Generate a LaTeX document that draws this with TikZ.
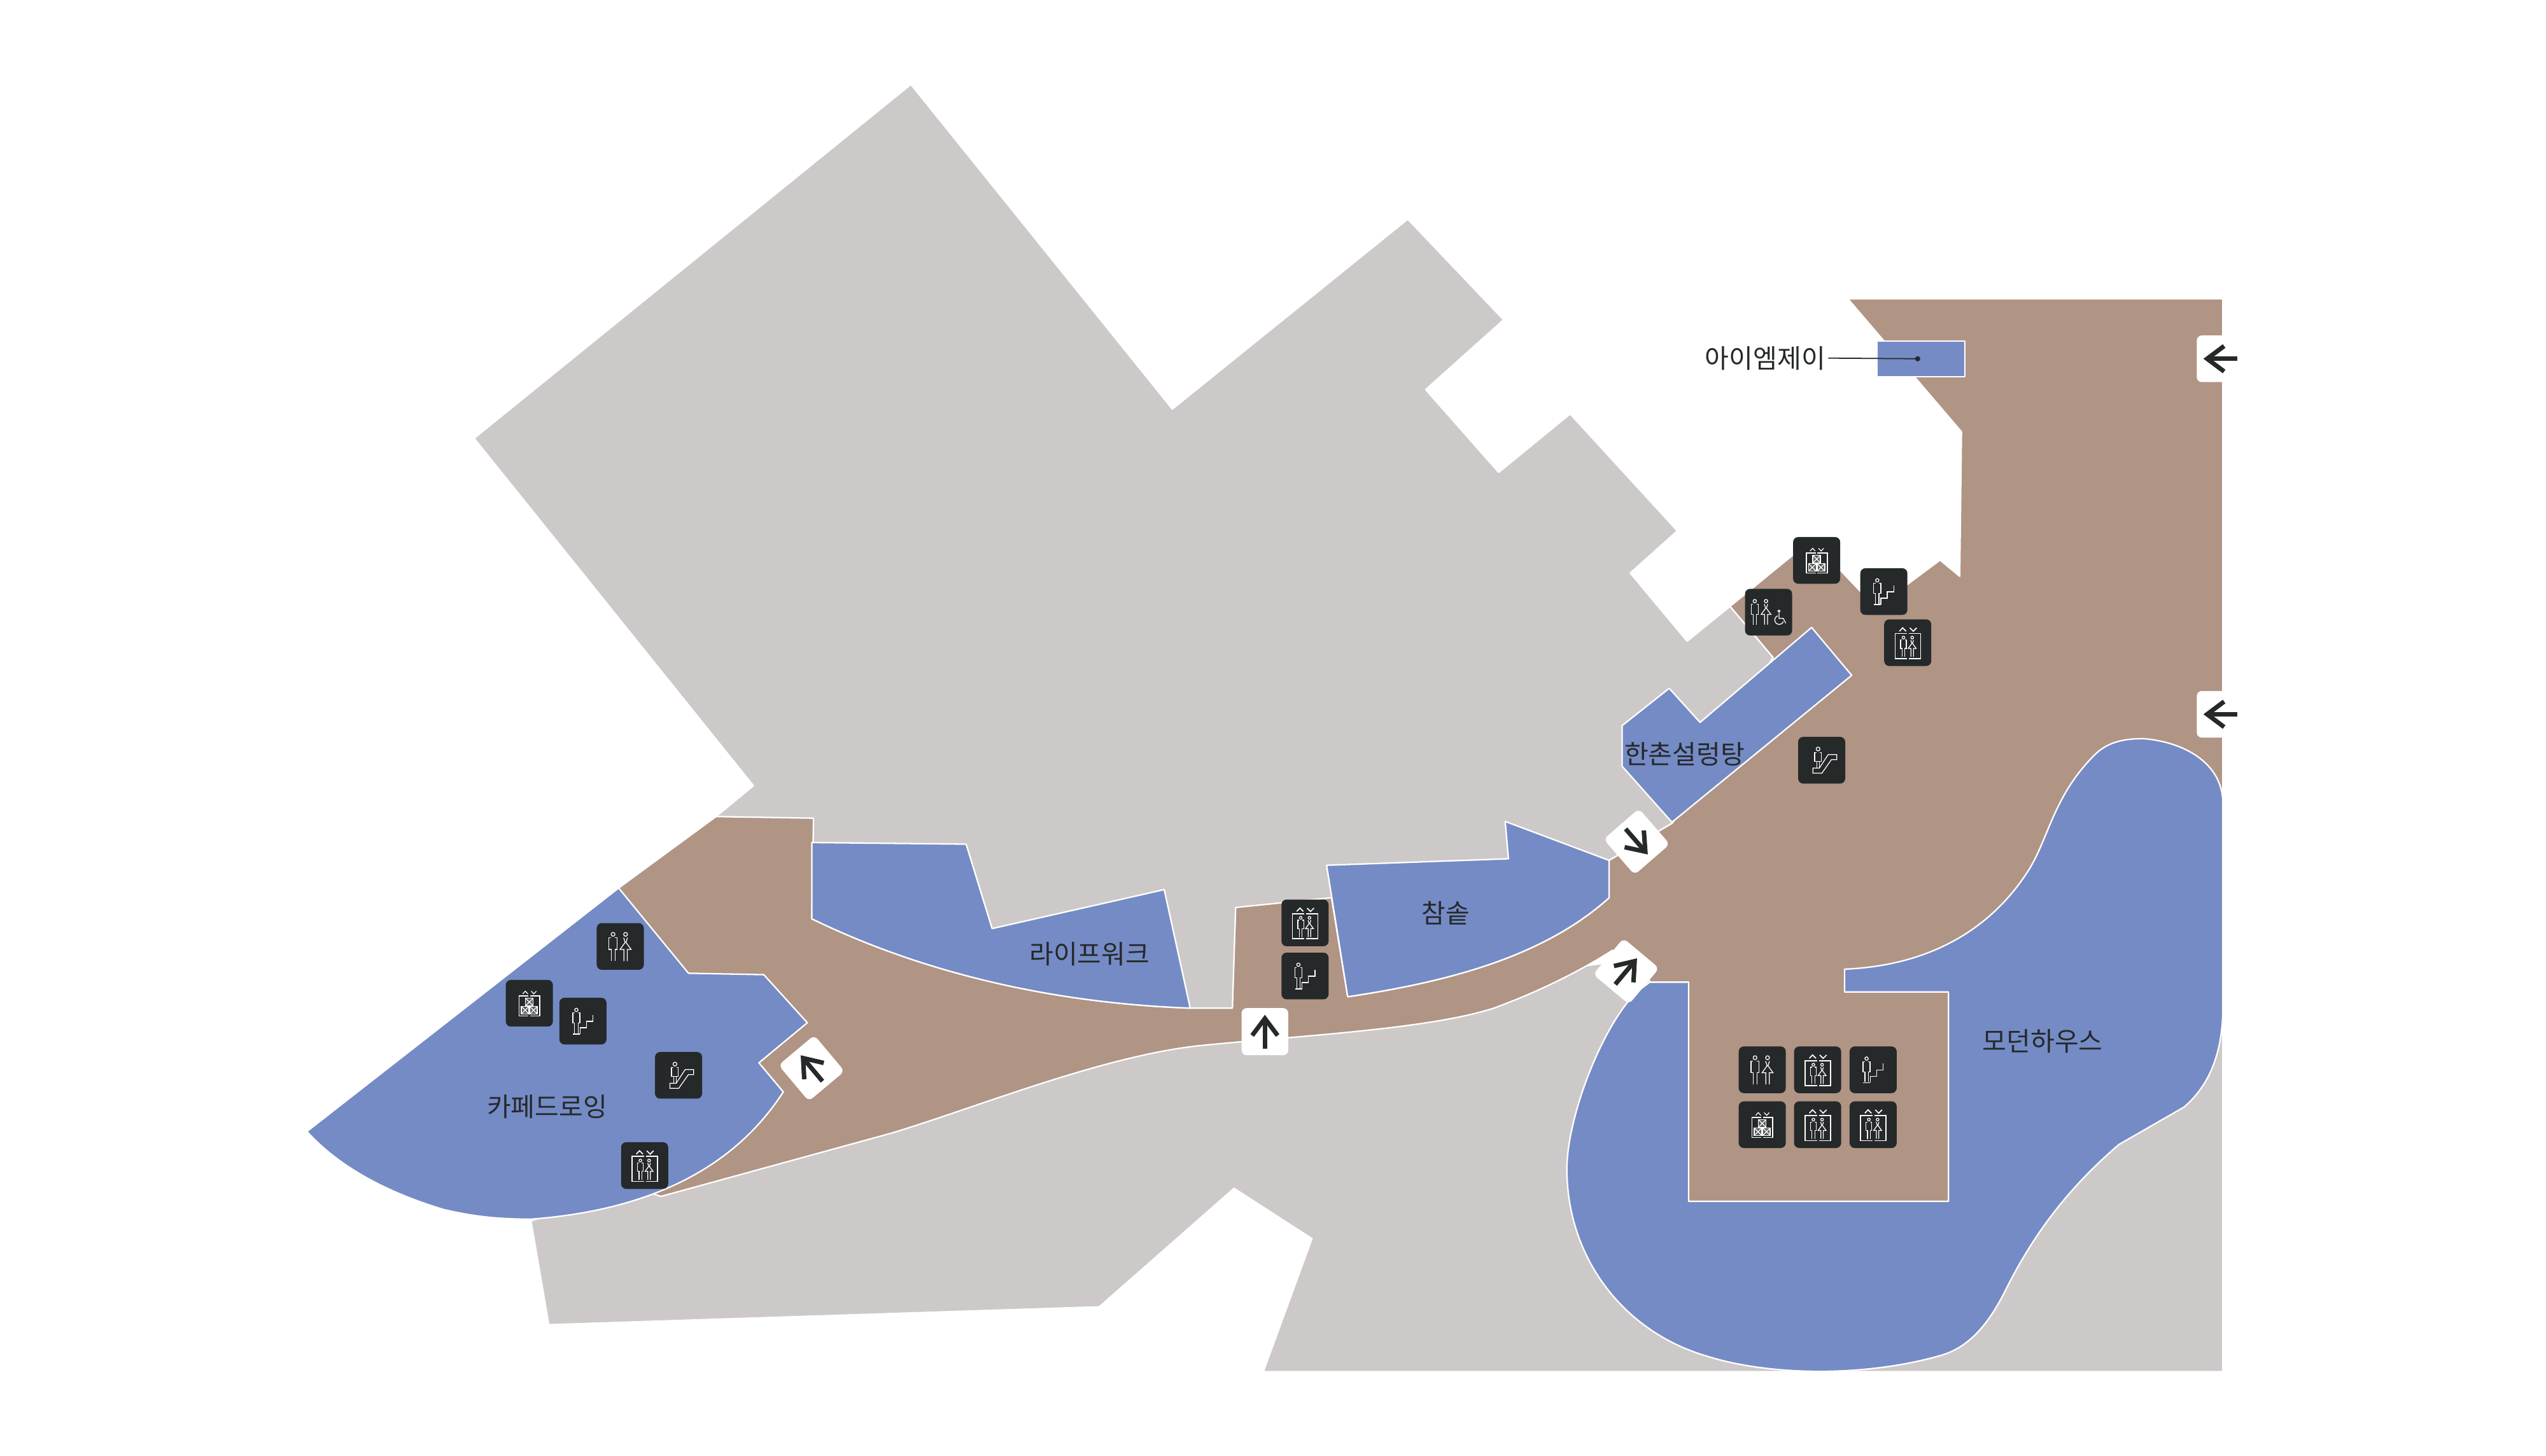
\documentclass[tikz,border=0pt]{standalone}
\usepackage{fontspec}
\setmainfont{Noto Sans CJK KR}
\definecolor{floorgray}{HTML}{CEC9C9}
\definecolor{floorbrown}{HTML}{B09484}
\definecolor{shopblue}{HTML}{758BC5}
\definecolor{ink}{HTML}{25292A}
\newcommand\figman[3]{\begin{scope}[shift={(#1,#2)},scale=#3]
 \draw[ico] (0,0) circle (9);
 \draw[ico] (-9,16) -- (-19,16) -- (-19,71) -- (-9,71) -- (-9,126);
 \draw[ico] (9,16) -- (19,16) -- (19,71) -- (9,71) -- (9,126);
\end{scope}}
\newcommand\figwoman[3]{\begin{scope}[shift={(#1,#2)},scale=#3]
 \draw[ico] (0,0) circle (9);
 \draw[ico] (-9,16) -- (-2,38) -- (-26,71) -- (-8,71) -- (-8,126);
 \draw[ico] (9,16) -- (2,38) -- (26,71) -- (8,71) -- (8,126);
\end{scope}}
\newcommand\liftframe{
 \draw[ico,line width=.48pt] (-3,-43) -- (-59,-43) -- (-59,75) -- (-3,75);
 \draw[ico,line width=.48pt] (6,-43) -- (61,-43) -- (61,75) -- (6,75);
 \draw[ico,line width=.48pt] (-39,-54) -- (-24,-70) -- (-8,-54);
 \draw[ico,line width=.48pt] (10,-70) -- (26,-54) -- (42,-70);
}
\newcommand\tilebg{\fill[ink,rounded corners=.08cm] (-111,-110) rectangle (111,110);}
\tikzset{
 ico/.style={draw=white,line width=.36pt,line cap=butt,line join=miter},
 shop/.style={fill=shopblue,draw=white,line width=.65pt,line join=round},
 walk/.style={fill=floorbrown,draw=white,line width=.65pt,line join=round},
 ground/.style={fill=floorgray,draw=white,line width=.65pt,line join=round},
 label/.style={text=ink,font=\fontsize{11.7pt}{14pt}\selectfont,inner sep=0pt},
 iconbase/.style={scale=0.13067},
 elevpic/.pic={\tilebg\liftframe\figman{-20}{-24}{.72}\figwoman{21}{-24}{.72}},
 stairpic/.pic={\tilebg\figman{-31}{-53}{.88}
   \draw[ico] (-47,61) -- (-14,61);
   \draw[ico] (-14,61) -- (-14,31) -- (16,31) -- (16,1) -- (47,1) -- (47,-30);},
 cargopic/.pic={\tilebg
   \draw[ico,line width=.48pt] (-4,-35) -- (-48,-35) -- (-48,60) -- (-4,60);
   \draw[ico,line width=.48pt] (4,-35) -- (50,-35) -- (50,60) -- (4,60);
   \draw[ico] (-31,-44) -- (-19,-57) -- (-7,-44);
   \draw[ico] (9,-57) -- (21,-44) -- (33,-57);
   \foreach \a/\b in {-18/-24,-38/15,2/15}{
     \draw[ico,line width=.48pt,fill=ink!75!white] (\a,\b) rectangle ++(36,36);
     \draw[ico] (\a,\b) -- ++(36,36);
     \draw[ico] (\a+36,\b) -- ++(-36,36);}},
 wcpic/.pic={\tilebg\figman{-34}{-57}{1}\figwoman{25}{-57}{1}},
 wcdpic/.pic={\tilebg\figman{-65}{-52}{.88}\figwoman{-12}{-52}{.88}
   \draw[ico] (49,-5) circle (5);
   \draw[ico] (49,4) -- (49,29) -- (69,29) -- (81,52);
   \draw[ico] (43,17) arc[start angle=-110,end angle=-340,radius=21] ;},
 escpic/.pic={\tilebg
   \draw[ico] (-17,-53) circle (9);
   \draw[ico] (-25,-37) -- (-33,-37) -- (-33,6) -- (-1,6) -- (-1,-37) -- (-9,-37);
   \draw[ico] (-23,6) -- (-23,37);
   \draw[ico] (-11,6) -- (-11,37);
   \draw[ico] (-41,37) -- (-11,37) -- (31,-27) -- (71,-27) -- (71,-3) -- (46,-3) -- (1,61) -- (-41,61) -- cycle;},
 arrowpic/.pic={\fill[white,rounded corners=.08cm] (-111,-110) rectangle (111,110);
   \draw[draw=ink,line width=2pt,line cap=butt,line join=miter] (18,-60) -- (-62,0) -- (18,60);
   \draw[draw=ink,line width=2pt,line cap=butt] (-62,0) -- (80,0);},
}
\begin{document}
\begin{tikzpicture}[x=0.0255102cm,y=-0.0255102cm]
\useasboundingbox (0,0) rectangle (1568,896.9);
% ground
\path[ground] (561,52) -- (722,252) -- (867,135) -- (926,197) -- (878,240) -- (923,291) -- (967,255) -- (1033,327) -- (1004,353) -- (1039,395) -- (1065.5,373.5) -- (1092,405) -- (1030,507) -- (991,530) -- (900,600) -- (830,614) -- (761,630) -- (500,620) -- (441,503) -- (464,484) -- (292,270) -- cycle;
\path[ground] (327,752) -- (338,816) -- (677,805) -- (760,732) -- (808,763) -- (778,845) -- (1369,845) -- (1369,560) -- (1010,590) -- (740,630) -- (500,640) -- (400,730) -- cycle;
% walkway
\path[walk] (381,547) -- (441,503) -- (501,504) -- (500,566) .. controls (570,600) and (650,618) .. (733,621) -- (759,621) -- (761,559) -- (820,553) -- (830,614) .. controls (890,605) and (950,590) .. (991,553) -- (991,530) -- (1030,507) -- (1092,405) -- (1065.5,373.5) -- (1115.6,332.6) -- (1145.5,364) -- (1160,372) -- (1174.7,360) -- (1194.8,345) -- (1206.9,355) -- (1208,266) -- (1138,184) -- (1369,184) -- (1369,500) -- (1210,650) -- (1205,745) -- (1035,745) -- (1020,610) -- (1015,603) -- (1006,590) -- (993,585.4) .. controls (975,597) and (950,610) .. (920,621) .. controls (880,634) and (800,638) .. (740,644) .. controls (680,650) and (600,682.7) .. (549,698) -- (407,737) -- (300,700) -- cycle;
% shops
\path[shop] (381,547) -- (424,599.5) -- (470.4,600.4) -- (497.2,630) -- (467.4,654.7) -- (482.4,672.6) .. controls (455,715) and (407,745) .. (327,751) .. controls (305,751) and (290,749) .. (273,745) .. controls (240,735) and (210,720) .. (189,697) -- cycle;
\path[shop] (500,519) -- (595,520) -- (611,572) -- (717,548) -- (733,621) .. controls (650,618) and (570,600) .. (500,566) -- cycle;
\path[shop] (817,533) -- (929,529) -- (927,506) -- (991,530) -- (991,553) .. controls (950,590) and (890,605) .. (830,614) -- cycle;
\path[shop] (999,447) -- (1028,424) -- (1047,445) -- (1115.7,386.5) -- (1140.4,416) -- (1029.7,506.5) -- (999,472) -- cycle;
\path[shop] (1156,210) rectangle (1210,232);
\path[shop] (1016,605) -- (1040,605) -- (1040,740) -- (1200,740) -- (1200,611) -- (1136,611) -- (1136,597) .. controls (1185,595) and (1225,575) .. (1250,535) .. controls (1262,515) and (1265,490) .. (1290,465) .. controls (1298,457) and (1308,455) .. (1320,455) .. controls (1345,457) and (1369,470) .. (1369,495) -- (1369,620) .. controls (1369,640) and (1365,665) .. (1345,682) -- (1305,705) .. controls (1270,735) and (1250,765) .. (1235,795) .. controls (1225,815) and (1213,830) .. (1195,835) .. controls (1150,848) and (1090,848) .. (1050,835) .. controls (1000,820) and (965,775) .. (965,720) .. controls (965,690) and (985,635) .. (1007.4,611.5) -- cycle;
% leader
\node[label,anchor=east] (lblime) at (1124.5,220.6) {아이엠제이};
\coordinate (imedot) at (1181,221);
\fill[ink] (imedot) circle (1.6);
\draw[ink,line width=.5pt] (1126,220.6) -- (imedot);
% labels
\node[label] (lblcafe) at (337,681.6) {카페드로잉};
\node[label] (lbllife) at (671,587.6) {라이프워크};
\node[label] (lblcham) at (890.5,562.4) {참솥};
\node[label] (lblhan) at (1037.5,464.4) {한촌설렁탕};
\node[label] (lblmod) at (1258,641.4) {모던하우스};
% icons
\pic[iconbase] at (1118.8,345.2) {cargopic};
\pic[iconbase] at (1089.2,377.1) {wcdpic};
\pic[iconbase] at (1160.2,364.4) {stairpic};
\pic[iconbase] at (1174.9,395.9) {elevpic};
\pic[iconbase] at (1121.9,468.3) {escpic};
\pic[iconbase] at (803.7,568.5) {elevpic};
\pic[iconbase] at (803.7,601.2) {stairpic};
\pic[iconbase] at (1085.3,659) {wcpic};
\pic[iconbase] at (1119.4,659) {elevpic};
\pic[iconbase] at (1153.6,659) {stairpic};
\pic[iconbase] at (1085.3,692.8) {cargopic};
\pic[iconbase] at (1119.4,692.8) {elevpic};
\pic[iconbase] at (1153.6,692.8) {elevpic};
\pic[iconbase] at (382,583) {wcpic};
\pic[iconbase] at (326,618) {cargopic};
\pic[iconbase] at (359,629) {stairpic};
\pic[iconbase] at (417.9,662.4) {escpic};
\pic[iconbase] at (397,718) {elevpic};
% arrows
\pic[iconbase,rotate=131] at (1008,518.5) {arrowpic};
\pic[iconbase,rotate=-130] at (1001.5,598.3) {arrowpic};
\pic[iconbase,rotate=-50] at (499.8,658) {arrowpic};
\pic[iconbase,rotate=-90] at (779,635.5) {arrowpic};
\pic[iconbase] at (1367.4,221) {arrowpic};
\pic[iconbase] at (1367.4,440) {arrowpic};
\end{tikzpicture}
\end{document}
